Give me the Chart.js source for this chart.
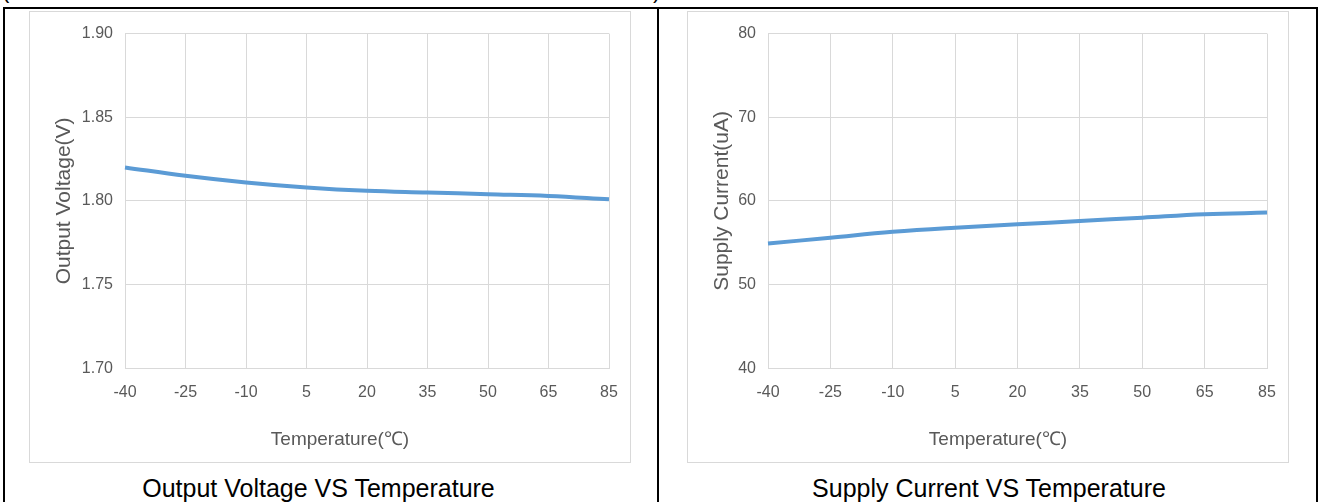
<!DOCTYPE html>
<html>
<head>
<meta charset="utf-8">
<script src="https://cdn.jsdelivr.net/npm/chart.js@4.4.1/dist/chart.umd.min.js"></script>
<style>
  html, body { margin: 0; padding: 0; background: #fff; }
  body { width: 1318px; height: 502px; position: relative; overflow: hidden;
         font-family: "Liberation Sans", Arial, sans-serif; }
  .frame { position: absolute; left: 3px; top: 7px; width: 1311px; height: 520px;
           border: 2px solid #000; box-sizing: content-box; }
  .divider { position: absolute; left: 657px; top: 7px; width: 2px; height: 520px; background: #000; }
  .box { position: absolute; top: 11px; width: 600px; height: 450px; border: 1px solid #d9d9d9; }
  .box canvas { display: block; }
  .cap { position: absolute; top: 473px; font-size: 25px; color: #000; text-align: center; line-height: 30px; }
  .cut { position: absolute; top: -20px; font-size: 22px; line-height: 22px; color: #000; }
</style>
</head>
<body>
<div class="cut" style="left:2px">(</div>
<div class="cut" style="left:653px">)</div>
<div class="frame"></div>
<div class="divider"></div>

<div class="box" style="left:29px"><canvas id="canvas-v" width="600" height="450"></canvas></div>
<div class="box" style="left:687px"><canvas id="canvas-i" width="600" height="450"></canvas></div>

<div class="cap" style="left:0px; width:637px">Output Voltage VS Temperature</div>
<div class="cap" style="left:661px; width:656px">Supply Current VS Temperature</div>

<script>
  'use strict';

  var temps = ['-40', '-25', '-10', '5', '20', '35', '50', '65', '85'];
  var voltage = [1.820, 1.815, 1.811, 1.808, 1.806, 1.805, 1.804, 1.803, 1.801];
  var current = [54.9, 55.6, 56.3, 56.8, 57.2, 57.6, 58.0, 58.4, 58.6];

  var gridColor = '#d9d9d9';
  var textColor = '#595959';

  function makeChart(id, values, yTitle, yMin, yMax, yStep, decimals, yWidth) {
    var ctx = document.getElementById(id);
    return new Chart(ctx, {
      type: 'line',
      data: {
        labels: temps,
        datasets: [{
          data: values,
          borderColor: '#5B9BD5',
          borderWidth: 4,
          pointRadius: 0,
          tension: 0.4,
          fill: false
        }]
      },
      options: {
        responsive: false,
        animation: false,
        layout: { padding: { left: 20, top: 21, right: 0, bottom: 0 } },
        plugins: {
          legend: { display: false },
          tooltip: { enabled: false },
          // x axis title, centred on the whole chart like the original
          title: {
            display: true, position: 'bottom', text: 'Temperature(℃)',
            color: textColor, padding: { top: 0, bottom: 11 },
            font: { family: 'Liberation Sans', size: 19, weight: 'normal' }
          }
        },
        scales: {
          x: {
            offset: false,
            // invisible tick marks push the labels down without widening the side padding
            grid: { color: gridColor, drawTicks: true, tickLength: 12, tickColor: 'rgba(0,0,0,0)' },
            border: { color: gridColor },
            ticks: {
              color: textColor, padding: 3, maxRotation: 0, autoSkip: false,
              font: { family: 'Liberation Sans', size: 16 }
            },
            afterFit: function (scale) { scale.height = 60; }
          },
          y: {
            min: yMin, max: yMax,
            grid: { color: gridColor, drawTicks: false },
            border: { color: gridColor },
            ticks: {
              stepSize: yStep, color: textColor, padding: 12,
              font: { family: 'Liberation Sans', size: 16 },
              callback: function (v) { return v.toFixed(decimals); }
            },
            title: {
              display: true, text: yTitle, color: textColor,
              padding: { top: 2, bottom: 0 },
              font: { family: 'Liberation Sans', size: 21 }
            },
            afterFit: function (scale) { scale.width = yWidth; }
          },
          // empty right margin so the plot ends where the original does
          yr: {
            position: 'right',
            grid: { display: false },
            border: { display: false },
            ticks: { display: false },
            afterFit: function (scale) { scale.width = 21; }
          }
        }
      }
    });
  }

  makeChart('canvas-v', voltage, 'Output Voltage(V)', 1.7, 1.9, 0.05, 2, 75);
  makeChart('canvas-i', current, 'Supply Current(uA)', 40, 80, 10, 0, 60);
</script>
</body>
</html>
